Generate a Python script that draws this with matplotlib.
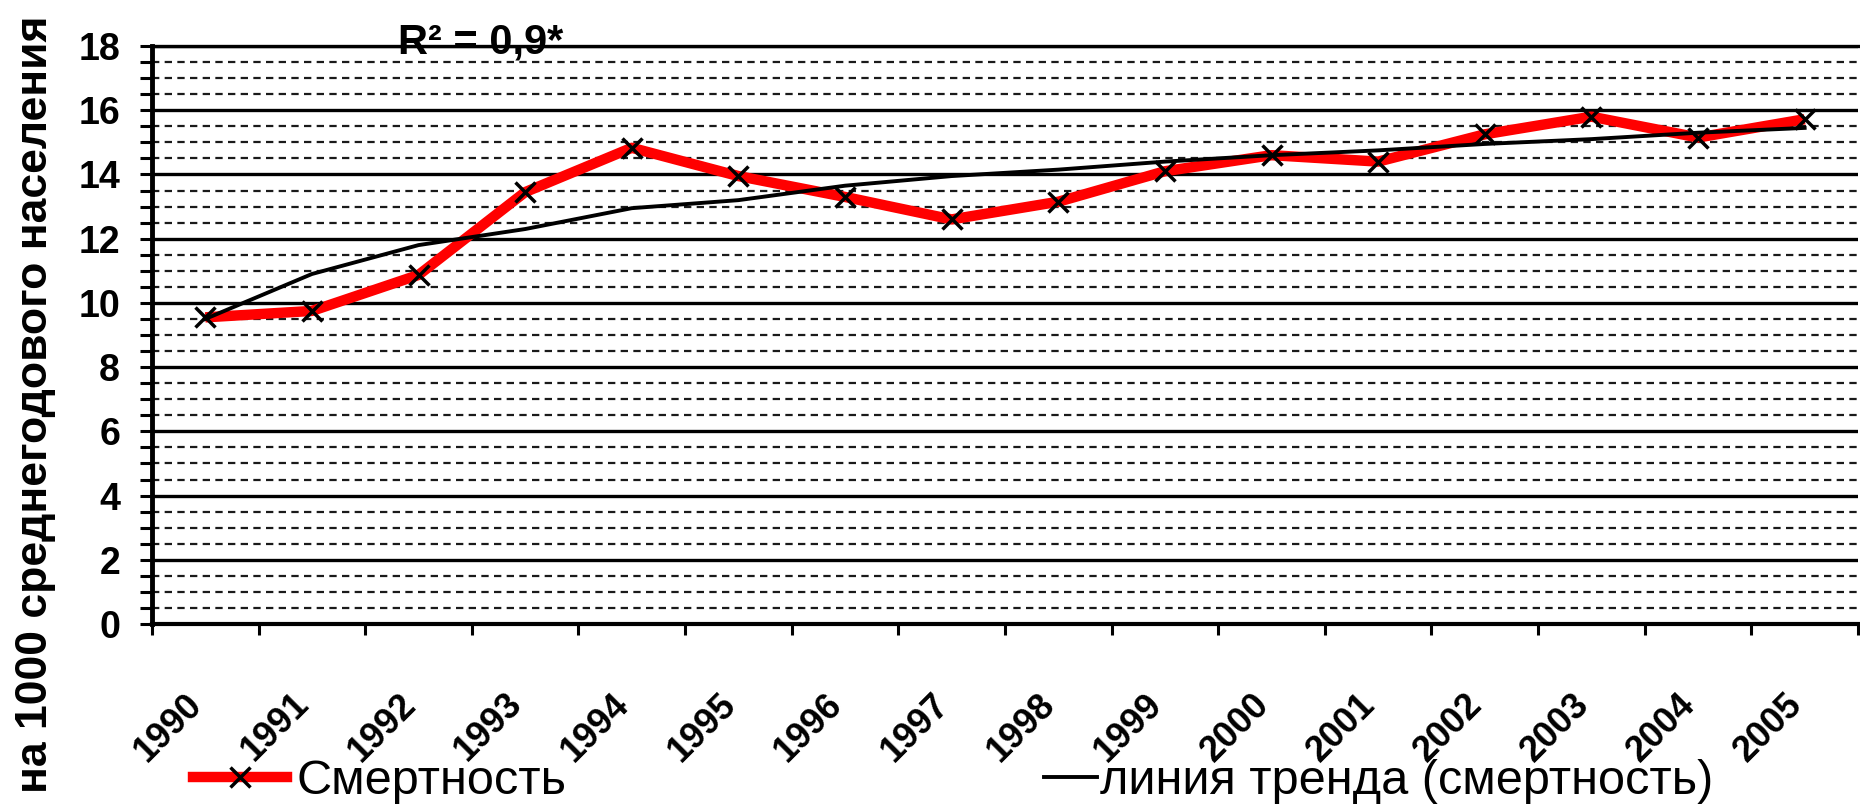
import matplotlib
matplotlib.use('Agg')
import matplotlib.pyplot as plt
import matplotlib.transforms as mtransforms
from matplotlib.lines import Line2D
import numpy as np

plt.rcParams['font.family'] = ['Liberation Sans', 'DejaVu Sans']

# смертность на 1000 населения по годам
years = ['1990', '1991', '1992', '1993', '1994', '1995', '1996', '1997',
         '1998', '1999', '2000', '2001', '2002', '2003', '2004', '2005']
mortality = [9.55, 9.75, 10.87, 13.45, 14.83, 13.95, 13.3, 12.6,
             13.15, 14.1, 14.6, 14.4, 15.25, 15.8, 15.15, 15.72]
# логарифмическая линия тренда
trend = [9.5, 10.9, 11.8, 12.3, 12.95, 13.2, 13.65, 13.95,
         14.15, 14.4, 14.6, 14.75, 14.95, 15.1, 15.3, 15.45]
r2_text = 'R² = 0,9*'
ylabel = 'на 1000 среднегодового населения'
legend_labels = ['Смертность', 'линия тренда (смертность)']

fig = plt.figure(figsize=(18.6, 8.1), dpi=100)
ax = fig.add_axes([0.0817, 0.2296, 0.9172, 0.7136])

x = np.arange(len(years)) + 0.5
ax.set_xlim(0, len(years))
ax.set_ylim(0, 18)

# сетка: сплошные линии через 2, пунктир через 0.5
ax.set_yticks(np.arange(0, 19, 2))
ax.set_yticks(np.arange(0, 18.01, 0.5), minor=True)
ax.set_axisbelow(True)
ax.grid(which='minor', axis='y', color='#1a1a1a', lw=1.6, dashes=(3.3, 2.4))
ax.grid(which='major', axis='y', color='black', lw=2.4)

ax.spines['right'].set_visible(False)
ax.spines['left'].set_linewidth(3.5)
ax.spines['bottom'].set_linewidth(3)
ax.spines['top'].set_linewidth(2.4)

ax.tick_params(axis='y', which='both', direction='out', length=9, width=2.2,
               pad=14, labelsize=27)
ax.tick_params(axis='y', which='minor', labelleft=False)
for lbl in ax.get_yticklabels():
    lbl.set_fontweight('bold')

# засечки на границах категорий, подписи лет по центру
ax.set_xticks(np.arange(len(years) + 1))
ax.set_xticklabels([])
ax.set_xticks(x, labels=years, minor=True)
ax.tick_params(axis='x', which='major', direction='out', length=8, width=2.2)
ax.tick_params(axis='x', which='minor', length=0, pad=54, labelsize=26)
shift = mtransforms.ScaledTranslation(-8 / 100, 0, fig.dpi_scale_trans)
for tick in ax.xaxis.get_minor_ticks():
    lbl = tick.label1
    lbl.set_rotation(45)
    lbl.set_ha('right')
    lbl.set_va('center')
    lbl.set_rotation_mode('anchor')
    lbl.set_fontweight('bold')
    lbl.set_transform(lbl.get_transform() + shift)

# данные
ax.plot(x, mortality, color='#ff0000', lw=7.5, solid_capstyle='butt', zorder=3)
ax.plot(x, trend, color='black', lw=2.8, zorder=4)
ax.plot(x, mortality, ls='none', marker='x', ms=15, mew=2.5, color='black', zorder=5)

fig.text(481 / 1860, 1 - 53 / 810, r2_text, fontsize=30, fontweight='bold',
         ha='center', va='baseline')
fig.text(36 / 1860, 1 - 404 / 810, ylabel, rotation=90, ha='center', va='center',
         fontsize=32, fontweight='bold')

# легенда внизу
h1 = Line2D([], [], color='#ff0000', lw=7.5, marker='x', ms=15, mew=2.5, mec='black')
h2 = Line2D([], [], color='black', lw=2.8)
fig.legend(handles=[h1], labels=[legend_labels[0]], loc='center left',
           bbox_to_anchor=(193 / 1860, 1 - 782 / 810), frameon=False,
           fontsize=35, handlelength=1.93, handletextpad=0.2,
           borderpad=0, borderaxespad=0, numpoints=1)
fig.legend(handles=[h2], labels=[legend_labels[1]], loc='center left',
           bbox_to_anchor=(1044 / 1860, 1 - 782 / 810), frameon=False,
           fontsize=35, handlelength=1.09, handletextpad=0.06,
           borderpad=0, borderaxespad=0)

fig.savefig('out.png', dpi=100)
